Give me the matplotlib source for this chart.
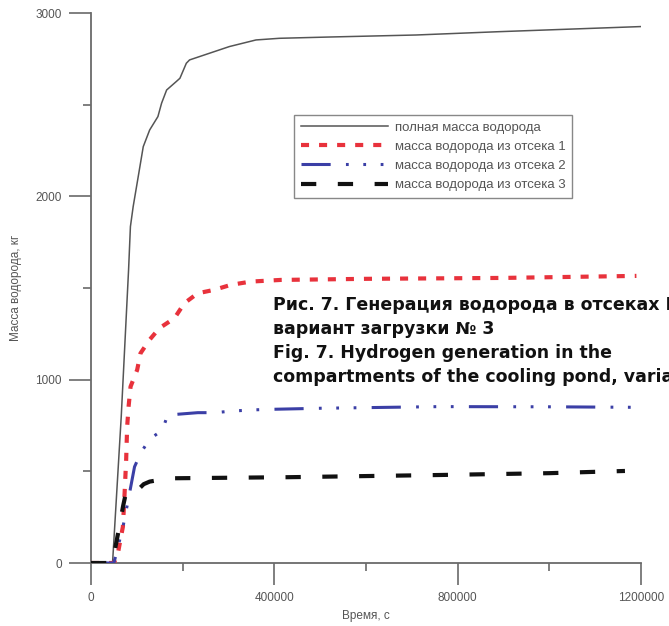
import numpy as np
import matplotlib
matplotlib.use("Agg")
import matplotlib.pyplot as plt

plt.rcParams['font.family'] = ['Liberation Sans', 'DejaVu Sans']
plt.rcParams['lines.scale_dashes'] = False

# time, s / hydrogen mass, kg
total_t = [0, 47000, 66000, 82000, 86000, 92000, 103000, 114000, 128000, 146000, 154000,
           165000, 186000, 194000, 208000, 215000, 302000, 360000, 411000, 520000,
           709000, 889000, 1200000]
total_m = [0, 0, 800, 1600, 1835, 1944, 2107, 2271, 2362, 2435, 2508,
           2580, 2626, 2644, 2726, 2744, 2817, 2853, 2862, 2869,
           2880, 2898, 2926]

red_t = [0, 50000, 58700, 69600, 73300, 76700, 78900, 82000, 86300, 100700, 108000,
         127600, 149300, 182000, 203700, 232600, 268900, 305000, 348500, 413700,
         600000, 900000, 1190000]
red_m = [0, 0, 53, 198, 380, 562, 744, 853, 962, 1053, 1144,
         1217, 1281, 1335, 1417, 1471, 1490, 1517, 1535, 1544,
         1550, 1555, 1566]

blue_t = [0, 50000, 70000, 84000, 95000, 109000, 128000, 156000, 167000, 233000,
          269000, 310000, 351000, 389000, 500000, 760000, 1000000, 1200000]
blue_m = [0, 0, 200, 380, 525, 602, 676, 725, 807, 820,
          820, 829, 835, 838, 844, 853, 852, 849]

black_t = [0, 47000, 52000, 62000, 70000, 76000, 90000, 102000, 115000, 128000,
           170000, 430000, 760000, 1000000, 1165000]
black_m = [0, 0, 70, 200, 310, 380, 370, 398, 430, 444,
           462, 468, 480, 490, 502]

labels = ['полная масса водорода',
          'масса водорода из отсека 1',
          'масса водорода из отсека 2',
          'масса водорода из отсека 3']

xticks = [0, 400000, 800000, 1200000]
yticks = [0, 1000, 2000, 3000]

W, H = 669, 626
fig = plt.figure(figsize=(W / 100, H / 100), dpi=100)
ax = fig.add_axes([91 / W, 1 - 563 / H, 550 / W, 550 / H])

axc = '#6a6a6a'
ax.plot(total_t, total_m, color='#555555', lw=1.1, label=labels[0], zorder=3)
ax.plot(red_t, red_m, color='#e8323c', lw=3.0, dashes=(5.8, 7.2), label=labels[1], zorder=4)
ax.plot(blue_t, blue_m, color='#3b3fa6', lw=2.2,
        dashes=(21, 11, 2, 10.5, 2, 10.5, 2, 11), label=labels[2], zorder=4)
ax.plot(black_t, black_m, color='#111111', lw=3.0, dashes=(11, 15.5), label=labels[3], zorder=5)

ax.set_xlim(0, 1200000)
ax.set_ylim(0, 3000)
ax.set_xticks(xticks)
ax.set_xticklabels([str(v) for v in xticks])
ax.set_yticks(yticks)
ax.set_yticklabels([str(v) for v in yticks])
ax.set_xticks([200000, 600000, 1000000], minor=True)
ax.set_yticks([500, 1500, 2500], minor=True)

for s in ['top', 'right']:
    ax.spines[s].set_visible(False)
for s in ['left', 'bottom']:
    ax.spines[s].set_color(axc)
    ax.spines[s].set_linewidth(1.3)
ax.tick_params(which='major', length=16, width=1.2, color=axc, labelcolor='#555555',
               labelsize=8.5, pad=5)
ax.tick_params(which='minor', length=6, width=1.2, color=axc)

ax.set_xlabel('Время, с', fontsize=8.5, color='#555555', labelpad=4)
ax.set_ylabel('Масса водорода, кг', fontsize=8.5, color='#555555')
ax.yaxis.set_label_coords(-(91 - 22) / 550, 0.5)

leg = ax.legend(loc='upper left', bbox_to_anchor=(294 / W, 1 - 115 / H),
                bbox_transform=fig.transFigure, fontsize=9.5, frameon=True,
                fancybox=False, edgecolor=axc, handlelength=6.6,
                handletextpad=0.55, labelspacing=0.52, borderpad=0.5,
                borderaxespad=0)
leg.get_frame().set_linewidth(1.0)
for t in leg.get_texts():
    t.set_color('#555555')

# caption block; like the printed page, it runs past the right edge
caption = ['Рис. 7. Генерация водорода в отсеках БВ,',
           'вариант загрузки № 3',
           'Fig. 7. Hydrogen generation in the',
           'compartments of the cooling pond, variant 3']
for i, line in enumerate(caption):
    fig.text(273 / W, 1 - (310 + 24 * i) / H, line, fontsize=12.5, fontweight='bold',
             family='DejaVu Sans', color='#111111', ha='left', va='baseline')

fig.savefig('out.png', dpi=100)
